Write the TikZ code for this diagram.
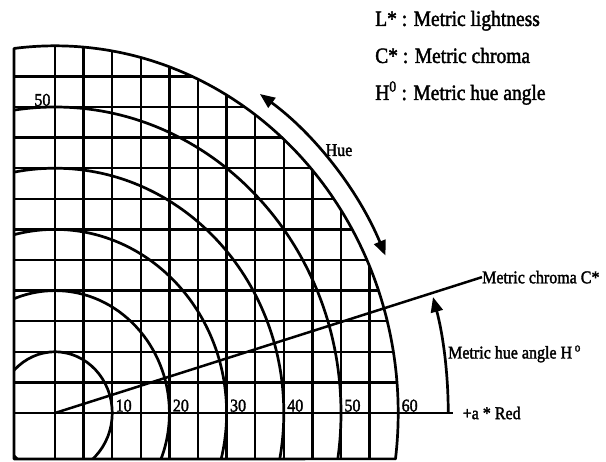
\documentclass[tikz,border=0pt]{standalone}
\usepackage{fontspec}
\setmainfont{Liberation Serif}[UprightFeatures={FakeBold=2}]
\usetikzlibrary{arrows.meta,positioning}

\tikzset{
  gridline/.style={line width=2.5pt},
  ring/.style={line width=2.7pt},
  scan/.style={yscale=1.12, transform shape},
  lbl/.style={scan, font=\fontsize{16}{18}\selectfont, inner sep=0pt},
  numlbl/.style={scan, font=\fontsize{16}{18}\selectfont, anchor=south west, inner sep=1pt},
  legend/.style={scan, font=\fontsize{19.5}{22}\selectfont, anchor=base west, inner sep=0pt},
  huetip/.tip={Triangle[length=15pt,width=12pt]}
}

\begin{document}
\begin{tikzpicture}[x=28.6pt, y=30.6pt, line join=round]
  \useasboundingbox (-1.923,-1.569) rectangle (19.266,13.497);
  \coordinate (O) at (0,0);
  \coordinate (angstart) at (13.75,0);
  \coordinate (redend) at (13.9,0);

  % grid and rings, cut to the quadrant
  \begin{scope}
    \clip (-1.434,-1.5) -- (-7.18:12) arc[start angle=-7.18, end angle=96.86, radius=12] -- cycle;
    \foreach \i in {0,...,11}
      \draw[gridline] (\i,-1.5) -- (\i,12);
    \foreach \j in {1,...,11}
      \draw[gridline] (-1.434,\j) -- (12,\j);
    \foreach \r in {2,4,...,10}
      \draw[ring] (O) circle (\r);
  \end{scope}
  \draw[ring] (-1.434,-1.5) -- (-7.18:12) arc[start angle=-7.18, end angle=96.86, radius=12] -- cycle;

  % +a* axis and chroma line
  \draw[gridline] (-1.434,0) -- (redend);
  \node (red) [lbl, right=10pt of redend] {+a * Red};
  \node (chroma) [lbl, anchor=west] at (14.93,4.44) {Metric chroma C*};
  \draw[gridline] (O) -- (chroma.west);

  % chroma values
  \foreach \k/\v in {1/10,2/20,3/30,4/40,5/50,6/60}
    \node (n\v) [numlbl] at ({2*\k+0.08},0) {\v};
  \node (n50left) [numlbl, anchor=south] at (-0.44,9.99) {50};

  % hue arrows
  \draw[ring, huetip-huetip] (55.5:12.65) arc[start angle=55.5, end angle=24, radius=12.65];
  \node (hue) [lbl] at (9.93,8.59) {Hue};
  \draw[ring, -huetip] (angstart) arc[start angle=0, end angle=16, radius=13.75];
  \node (hueangle) [lbl, anchor=west] at (13.74,1.93) {Metric hue angle H\,\textsuperscript{o}};

  % legend
  \node (lgL) [legend] at (11.19,12.65) {L* : Metric lightness};
  \node (lgC) [legend] at (11.19,11.44) {C* : Metric chroma};
  \node (lgH) [legend] at (11.19,10.23) {H\textsuperscript{0} : Metric hue angle};
\end{tikzpicture}
\end{document}
